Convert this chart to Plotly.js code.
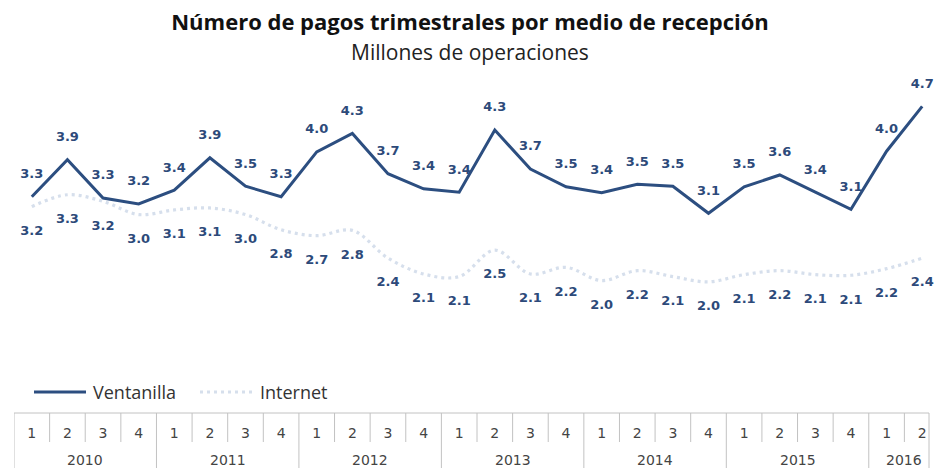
<!DOCTYPE html>
<html><head><meta charset="utf-8">
<script src="https://cdn.plot.ly/plotly-3.0.1.min.js"></script>
<style>html,body{margin:0;padding:0;background:#fff}#chart{width:940px;height:468px}</style>
</head><body><div id="chart"></div>
<script>
const years = ['2010','2010','2010','2010','2011','2011','2011','2011','2012','2012','2012','2012',
  '2013','2013','2013','2013','2014','2014','2014','2014','2015','2015','2015','2015','2016','2016'];
const quarters = ['1','2','3','4','1','2','3','4','1','2','3','4','1','2','3','4','1','2','3','4','1','2','3','4','1','2'];
const ventanilla = [3.31,3.87,3.29,3.20,3.41,3.90,3.47,3.31,3.99,4.27,3.66,3.43,3.38,4.32,3.73,3.46,3.37,3.50,3.47,3.06,3.46,3.64,3.38,3.12,4.00,4.68];
const internet = [3.16,3.34,3.24,3.04,3.11,3.14,3.04,2.81,2.72,2.80,2.38,2.14,2.10,2.50,2.14,2.24,2.04,2.19,2.10,2.02,2.13,2.19,2.13,2.12,2.22,2.38];
const seriesNames = ['Ventanilla','Internet'];
const titleText = 'Número de pagos trimestrales por medio de recepción';
const subtitleText = 'Millones de operaciones';

// category keys built from the two label arrays
const keys = years.map((y, i) => y + '-T' + quarters[i]);
const uniqueYears = years.filter((y, i) => years.indexOf(y) === i);
const yearCenters = uniqueYears.map(y => {
  const idx = years.map((v, i) => v === y ? i : -1).filter(i => i >= 0);
  return (idx[0] + idx[idx.length - 1]) / 2;
});
const yearStarts = uniqueYears.map(y => years.indexOf(y) - 0.5);

const darkBlue = '#2c4e80';
const lightBlue = '#d6dfec';
const labelColor = '#2d4a7a';
const labelFont = {family:'DejaVu Sans', size:13, color:labelColor, weight:'bold'};

const traces = [
  {
    x:keys, y:ventanilla, name:seriesNames[0], type:'scatter',
    mode:'lines+markers+text',
    line:{color:darkBlue, width:3},
    marker:{size:23, color:'rgba(0,0,0,0)'},
    texttemplate:'%{y:.1f}', textposition:'top center', textfont:labelFont,
    hoverinfo:'skip', cliponaxis:false
  },
  {
    x:keys, y:internet, name:seriesNames[1], type:'scatter',
    mode:'lines+markers+text',
    line:{color:lightBlue, width:3.2, dash:'3px,4px', shape:'spline', smoothing:1},
    marker:{size:28, color:'rgba(0,0,0,0)'},
    texttemplate:'%{y:.1f}', textposition:'bottom center', textfont:labelFont,
    hoverinfo:'skip', cliponaxis:false
  }
];

const plotTop = 75, plotBottom = 413, plotLeft = 14, W = 940, H = 468;
const ph = plotBottom - plotTop, pw = W - plotLeft;
const px = v => (v - plotLeft) / pw;
const py = v => (plotBottom - v) / ph;
const gridGrey = '#c2c2c2';

const shapes = [
  {type:'line', xref:'paper', yref:'paper', x0:0, x1:px(929), y0:0, y1:0, line:{color:gridGrey, width:1}},
  {type:'line', xref:'paper', yref:'paper', x0:px(929), x1:px(929), y0:0, y1:py(468), line:{color:gridGrey, width:1}},
  {type:'line', xref:'paper', yref:'paper', x0:px(34), x1:px(86), y0:py(392), y1:py(392), line:{color:darkBlue, width:3}},
  {type:'line', xref:'paper', yref:'paper', x0:px(200), x1:px(252), y0:py(392), y1:py(392), line:{color:lightBlue, width:3.2, dash:'3px,4px'}}
];
// quarter cell borders
keys.forEach((k, i) => {
  if (i === 0 || years[i] !== years[i - 1]) return;
  shapes.push({type:'line', xref:'x', yref:'paper', x0:i - 0.5, x1:i - 0.5, y0:0, y1:py(442), line:{color:gridGrey, width:1}});
});
// year borders
yearStarts.forEach(b => {
  shapes.push({type:'line', xref:'x', yref:'paper', x0:b, x1:b, y0:0, y1:py(468), line:{color:gridGrey, width:1}});
});

const tickFont = {family:'DejaVu Sans', size:14, color:'#444'};
const annotations = [
  {xref:'paper', yref:'paper', x:px(91), y:py(392), xanchor:'left', yanchor:'middle', text:seriesNames[0], showarrow:false,
   font:{family:'Open Sans', size:18, color:'#333'}},
  {xref:'paper', yref:'paper', x:px(258), y:py(392), xanchor:'left', yanchor:'middle', text:seriesNames[1], showarrow:false,
   font:{family:'Open Sans', size:18, color:'#333'}},
  {xref:'paper', yref:'paper', x:(470 - plotLeft)/pw, y:py(52), xanchor:'center', yanchor:'middle', text:subtitleText, showarrow:false,
   font:{family:'Open Sans', size:21, color:'#222'}}
];
// year labels of the table, placed on the x scale at the centre of each year group
uniqueYears.forEach((y, j) => {
  annotations.push({xref:'x', yref:'paper', x:yearCenters[j], y:py(460), xanchor:'center', yanchor:'middle',
    text:y, showarrow:false, font:tickFont});
});

const layout = {
  width:W, height:H,
  margin:{l:plotLeft, r:0, t:plotTop, b:H - plotBottom, pad:0},
  paper_bgcolor:'#fff', plot_bgcolor:'#fff',
  showlegend:false,
  title:{
    text:'<b>' + titleText + '</b>',
    font:{family:'Open Sans', size:22, color:'#111'},
    x:0.5, xref:'container', xanchor:'center',
    y:1 - 22/H, yref:'container', yanchor:'middle'
  },
  xaxis:{
    type:'category', categoryorder:'array', categoryarray:keys, range:[-0.5, 25.5],
    tickmode:'array', tickvals:keys, ticktext:quarters,
    showline:false, showgrid:false, zeroline:false, ticks:'',
    ticklabelstandoff:10, tickfont:tickFont
  },
  yaxis:{range:[0.033, 5.155], visible:false, showgrid:false, zeroline:false},
  shapes:shapes, annotations:annotations
};

Plotly.newPlot('chart', traces, layout, {displayModeBar:false, staticPlot:true});
</script>
</body></html>
